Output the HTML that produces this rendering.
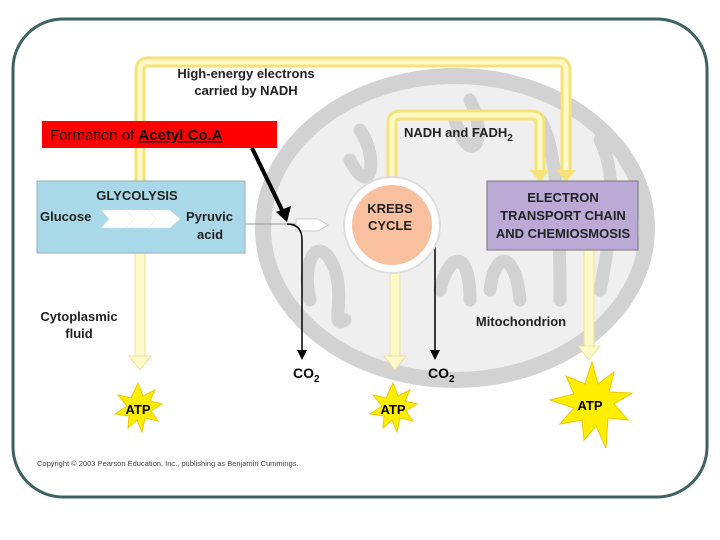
<!DOCTYPE html>
<html><head><style>body{margin:0;background:#fff}svg{display:block}text{font-family:"Liberation Sans",sans-serif}.b{font-weight:bold}</style></head><body>
<svg width="720" height="540" viewBox="0 0 720 540">
<rect x="13" y="19" width="694" height="478" rx="50" fill="#fff" stroke="#3d6262" stroke-width="3"/>
<!-- mitochondrion -->
<ellipse cx="455" cy="228" rx="192" ry="152" fill="#efefef" stroke="#d2d2d2" stroke-width="16"/>
<g fill="none" stroke="#d2d2d2" stroke-width="13" stroke-linecap="round">
<path d="M310 300 C300 260 320 230 335 270 C345 300 330 330 345 320"/>
<path d="M360 130 C380 160 370 200 350 160"/>
<path d="M440 290 C450 250 470 250 470 300"/>
<path d="M490 290 C495 250 515 250 520 300"/>
<path d="M540 120 C560 150 560 250 560 300"/>
<path d="M600 140 C620 180 610 240 600 290"/>
<path d="M470 100 C490 140 470 170 455 120"/>
</g>
<!-- yellow paths -->
<g fill="none" stroke="#f5e27a" stroke-width="11" stroke-linejoin="round">
<path d="M140 360 V70 Q140 62 148 62 H558 Q566 62 566 70 V172"/>
<path d="M392 180 V122 Q392 115 400 115 H532 Q540 115 540 122 V172"/>
</g>
<g fill="none" stroke="#fff9c8" stroke-width="5">
<path d="M140 360 V70 Q140 62 148 62 H558 Q566 62 566 70 V172"/>
<path d="M392 180 V122 Q392 115 400 115 H532 Q540 115 540 122 V172"/>
</g>
<g fill="#f5e27a"><polygon points="530,170 550,170 540,182"/><polygon points="556,170 576,170 566,182"/></g>
<!-- down arrows -->
<g fill="#fff9c8" stroke="#e8e0a0" stroke-width="1">
<rect x="135" y="253" width="10" height="105"/><polygon points="129,356 151,356 140,370"/>
<rect x="390" y="270" width="10" height="88"/><polygon points="384,356 406,356 395,370"/>
<rect x="584" y="250" width="10" height="98"/><polygon points="578,346 600,346 589,360"/>
</g>
<!-- glycolysis -->
<line x1="245" y1="224" x2="300" y2="224" stroke="#999" stroke-width="1"/>
<polygon points="296,219 318,219 328,225 318,231 296,231" fill="#fff" stroke="#ccc"/>
<rect x="37" y="181" width="208" height="72" fill="#a9d9e8" stroke="#9ab" stroke-width="1"/>
<text class="b" x="137" y="200" font-size="13" text-anchor="middle" fill="#222">GLYCOLYSIS</text>
<text class="b" x="40" y="221" font-size="13" fill="#222">Glucose</text>
<g fill="#fff" stroke="#ddd" stroke-width="0.5">
<polygon points="101,210 128,210 136,219 128,228 101,228 109,219"/>
<polygon points="126,210 150,210 158,219 150,228 126,228 134,219"/>
<polygon points="148,210 170,210 180,219 170,228 148,228 156,219"/>
</g>
<text class="b" x="186" y="221" font-size="13" fill="#222">Pyruvic</text>
<text class="b" x="197" y="239" font-size="13" fill="#222">acid</text>
<!-- CO2 arrows -->
<path d="M287 224 Q302 224 302 240 V352" fill="none" stroke="#000" stroke-width="1.5"/>
<polygon points="297,350 307,350 302,360" fill="#000"/>
<line x1="435" y1="245" x2="435" y2="352" stroke="#000" stroke-width="1.5"/>
<polygon points="430,350 440,350 435,360" fill="#000"/>
<text class="b" x="293" y="378" font-size="14" fill="#000">CO<tspan font-size="10" dy="4">2</tspan></text>
<text class="b" x="428" y="378" font-size="14" fill="#000">CO<tspan font-size="10" dy="4">2</tspan></text>
<!-- krebs -->
<circle cx="392" cy="225" r="48" fill="#fff" stroke="#ddd" stroke-width="2"/>
<circle cx="392" cy="225" r="40" fill="#f9c0a0"/>
<text class="b" x="390" y="213" font-size="13" text-anchor="middle" fill="#222">KREBS</text>
<text class="b" x="390" y="230" font-size="13" text-anchor="middle" fill="#222">CYCLE</text>
<!-- ETC -->
<rect x="487" y="181" width="151" height="69" fill="#bba9d6" stroke="#777" stroke-width="1"/>
<text class="b" x="563" y="202" font-size="13" text-anchor="middle" fill="#222">ELECTRON</text>
<text class="b" x="563" y="220" font-size="13" text-anchor="middle" fill="#222">TRANSPORT CHAIN</text>
<text class="b" x="563" y="238" font-size="13" text-anchor="middle" fill="#222">AND CHEMIOSMOSIS</text>
<!-- labels -->
<text class="b" x="246" y="78" font-size="13" text-anchor="middle" fill="#222">High-energy electrons</text>
<text class="b" x="246" y="95" font-size="13" text-anchor="middle" fill="#222">carried by NADH</text>
<text class="b" x="404" y="137" font-size="13" fill="#222">NADH and FADH<tspan font-size="10" dy="4">2</tspan></text>
<text class="b" x="79" y="321" font-size="13" text-anchor="middle" fill="#222">Cytoplasmic</text>
<text class="b" x="79" y="338" font-size="13" text-anchor="middle" fill="#222">fluid</text>
<text class="b" x="521" y="326" font-size="13" text-anchor="middle" fill="#222">Mitochondrion</text>
<!-- red box -->
<rect x="42" y="121" width="235" height="27" fill="#ff0000"/>
<text x="50" y="140" font-size="15" fill="#111">Formation of <tspan text-decoration="underline" class="b">Acetyl Co.A</tspan></text>
<line x1="252" y1="148" x2="283" y2="212" stroke="#000" stroke-width="4"/>
<polygon points="276,212 291,206 287,222" fill="#000"/>
<!-- stars -->
<g fill="#ffee00" stroke="#f0c800" stroke-width="1">
<polygon points="138,383 143,396 155,390 150,401 162,404 151,411 158,421 145,418 142,432 137,420 128,428 129,416 115,414 127,406 118,395 131,398"/>
<polygon points="393,383 398,396 410,390 405,401 417,404 406,411 413,421 400,418 397,432 392,420 383,428 384,416 370,414 382,406 373,395 386,398"/>
<polygon points="592,362 598,384 614,372 609,392 632,393 614,404 628,420 608,418 606,448 596,426 584,440 582,420 560,424 574,408 550,400 574,394 566,376 585,384"/>
</g>
<text class="b" x="138" y="414" font-size="13" text-anchor="middle" fill="#000">ATP</text>
<text class="b" x="393" y="414" font-size="13" text-anchor="middle" fill="#000">ATP</text>
<text class="b" x="590" y="410" font-size="13" text-anchor="middle" fill="#000">ATP</text>
<text x="37" y="466" font-size="7.5" fill="#444">Copyright © 2003 Pearson Education, Inc., publishing as Benjamin Cummings.</text>
</svg>
</body></html>
